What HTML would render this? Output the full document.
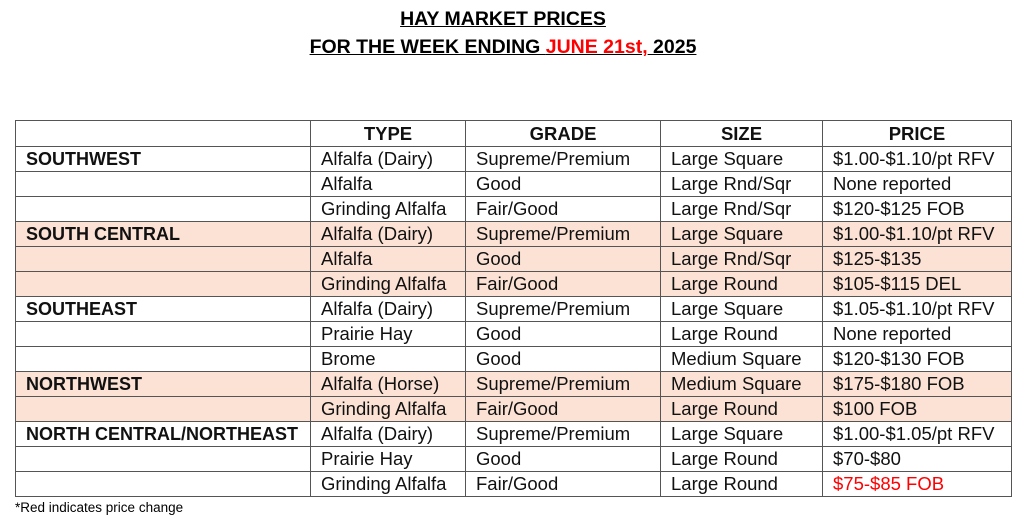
<!DOCTYPE html>
<html><head><style>
body{margin:0;width:1024px;height:520px;background:#fff;font-family:"Liberation Sans",sans-serif;position:relative;overflow:hidden}
.t{position:absolute;left:0;width:1006px;text-align:center;font-weight:bold;font-size:19.5px;text-decoration:underline;color:#000}
table{position:absolute;left:15px;top:120px;border-collapse:collapse;table-layout:fixed;font-size:18.5px;color:#111}
td{border:1px solid #555;height:24px;padding:0 0 0 10px;white-space:nowrap;line-height:24px;overflow:hidden}
tr.h td{height:25px;text-align:center;font-weight:bold;padding:0}
td.r{font-weight:bold;font-size:18px}
tr.s td{background:#fbe2d5}
.red{color:#f00}
.n{position:absolute;left:15px;top:500px;font-size:13.5px}
</style></head><body>
<div class="t" style="top:8px">HAY MARKET PRICES</div>
<div class="t" style="top:36px">FOR THE WEEK ENDING <span style="color:#f00">JUNE 21st,</span> 2025</div>
<table>
<colgroup><col style="width:295px"><col style="width:155px"><col style="width:195px"><col style="width:162px"><col style="width:189px"></colgroup>
<tr class="h"><td></td><td>TYPE</td><td>GRADE</td><td>SIZE</td><td>PRICE</td></tr>
<tr><td class="r">SOUTHWEST</td><td>Alfalfa (Dairy)</td><td>Supreme/Premium</td><td>Large Square</td><td>$1.00-$1.10/pt RFV</td></tr>
<tr><td></td><td>Alfalfa</td><td>Good</td><td>Large Rnd/Sqr</td><td>None reported</td></tr>
<tr><td></td><td>Grinding Alfalfa</td><td>Fair/Good</td><td>Large Rnd/Sqr</td><td>$120-$125 FOB</td></tr>
<tr class="s"><td class="r">SOUTH CENTRAL</td><td>Alfalfa (Dairy)</td><td>Supreme/Premium</td><td>Large Square</td><td>$1.00-$1.10/pt RFV</td></tr>
<tr class="s"><td></td><td>Alfalfa</td><td>Good</td><td>Large Rnd/Sqr</td><td>$125-$135</td></tr>
<tr class="s"><td></td><td>Grinding Alfalfa</td><td>Fair/Good</td><td>Large Round</td><td>$105-$115 DEL</td></tr>
<tr><td class="r">SOUTHEAST</td><td>Alfalfa (Dairy)</td><td>Supreme/Premium</td><td>Large Square</td><td>$1.05-$1.10/pt RFV</td></tr>
<tr><td></td><td>Prairie Hay</td><td>Good</td><td>Large Round</td><td>None reported</td></tr>
<tr><td></td><td>Brome</td><td>Good</td><td>Medium Square</td><td>$120-$130 FOB</td></tr>
<tr class="s"><td class="r">NORTHWEST</td><td>Alfalfa (Horse)</td><td>Supreme/Premium</td><td>Medium Square</td><td>$175-$180 FOB</td></tr>
<tr class="s"><td></td><td>Grinding Alfalfa</td><td>Fair/Good</td><td>Large Round</td><td>$100 FOB</td></tr>
<tr><td class="r">NORTH CENTRAL/NORTHEAST</td><td>Alfalfa (Dairy)</td><td>Supreme/Premium</td><td>Large Square</td><td>$1.00-$1.05/pt RFV</td></tr>
<tr><td></td><td>Prairie Hay</td><td>Good</td><td>Large Round</td><td>$70-$80</td></tr>
<tr><td></td><td>Grinding Alfalfa</td><td>Fair/Good</td><td>Large Round</td><td class="red">$75-$85 FOB</td></tr>
</table>
<div class="n">*Red indicates price change</div>
</body></html>
